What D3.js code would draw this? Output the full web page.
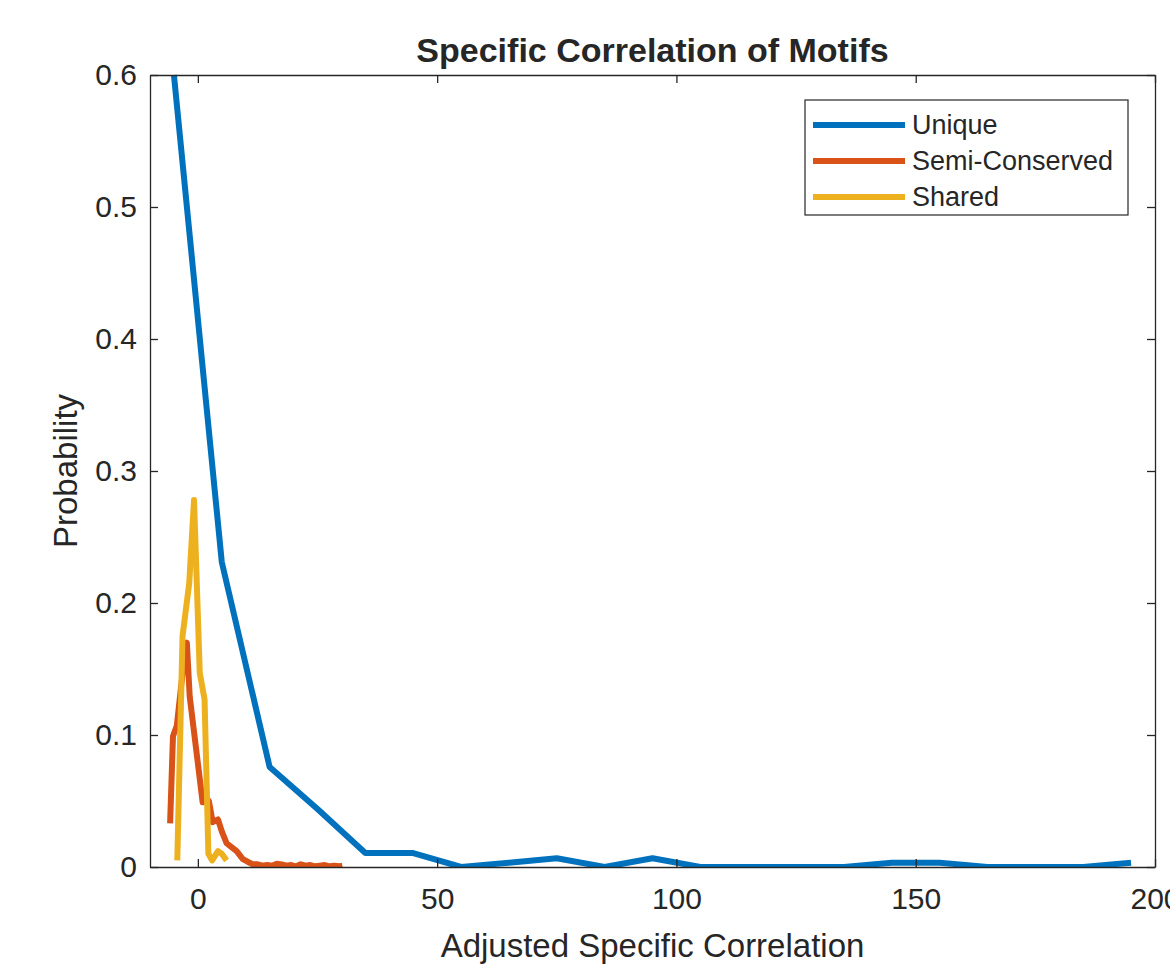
<!DOCTYPE html>
<html>
<head>
<meta charset="utf-8">
<script src="https://cdn.jsdelivr.net/npm/d3@7"></script>
<style>
  body { margin: 0; background: #fff; }
  text { font-family: "Liberation Sans", Arial, sans-serif; fill: #262626; }
</style>
</head>
<body>
<svg id="svg" width="1170" height="964"></svg>
<script>
// data
const seriesNames = ["Unique", "Semi-Conserved", "Shared"];
const seriesColors = ["#0072BD", "#D95319", "#EDB120"];

const uniqueX = [-5, 5, 15, 25, 35, 45, 55, 65, 75, 85, 95, 105, 115, 125, 135, 145, 155, 165, 175, 185, 195];
const uniqueY = [0.6, 0.231, 0.0757, 0.044, 0.0106, 0.0106, 0, 0.0033, 0.0066, 0, 0.0066, 0, 0, 0, 0, 0.0033, 0.0033, 0, 0, 0, 0.0033];

const semiX = [-5.8, -5.2, -4.4, -3.1, -2.3, -1.7, 1.0, 2.3, 3.1, 4.2, 5.0, 6.0, 6.7, 8.1, 9.4, 10.4, 11.5, 12.5, 13.5, 14.5, 15.5, 16.5, 17.5, 18.5, 19.5, 20.5, 21.5, 22.5, 23.5, 24.5, 25.5, 26.5, 27.5, 28.5, 29.5, 30.2];
const semiY = [0.033, 0.099, 0.107, 0.15, 0.17, 0.129, 0.049, 0.050, 0.034, 0.036, 0.027, 0.018, 0.016, 0.012, 0.006, 0.004, 0.002, 0.002, 0.001, 0.0015, 0.001, 0.0025, 0.002, 0.001, 0.0015, 0.0005, 0.002, 0.001, 0.0015, 0.0005, 0.001, 0.0015, 0.0005, 0.001, 0.0005, 0.001];

const sharedX = [-4.3, -3.2, -1.8, -0.8, 0.4, 1.4, 2.2, 3.0, 4.2, 5.0, 6.0];
const sharedY = [0.005, 0.175, 0.215, 0.278, 0.147, 0.127, 0.01, 0.005, 0.012, 0.010, 0.005];

const xTicks = [0, 50, 100, 150, 200];
const yTicks = [0, 0.1, 0.2, 0.3, 0.4, 0.5, 0.6];

window.onload = function () {

    const series = [
        { name: seriesNames[0], color: seriesColors[0], pts: d3.zip(uniqueX, uniqueY) },
        { name: seriesNames[1], color: seriesColors[1], pts: d3.zip(semiX, semiY) },
        { name: seriesNames[2], color: seriesColors[2], pts: d3.zip(sharedX, sharedY) }
    ];

    let svg = d3.select('#svg');
    const mLeft = 150, mRight = 1155, mTop = 75, mBottom = 867;

    let x = d3.scaleLinear().domain([-10, 200]).range([mLeft, mRight]);
    let y = d3.scaleLinear().domain([0, 0.6]).range([mBottom, mTop]);

    svg.append("defs").append("clipPath").attr("id", "clip")
        .append("rect").attr("x", mLeft).attr("y", mTop - 3).attr("width", mRight - mLeft).attr("height", mBottom - mTop + 3);

    // lines
    const line = d3.line().x(d => x(d[0])).y(d => y(d[1]));
    let plot = svg.append("g").attr("clip-path", "url(#clip)");
    series.forEach(s => {
        plot.append("path").attr("d", line(s.pts)).attr("fill", "none")
            .attr("stroke", s.color).attr("stroke-width", 6)
            .attr("stroke-linejoin", "round").attr("stroke-linecap", "butt");
    });

    // axes, matlab style box with inward ticks
    const tickLen = 8;
    let xb = svg.append("g").attr("transform", `translate(0,${mBottom})`)
        .call(d3.axisBottom(x).tickValues(xTicks).tickSizeInner(-tickLen).tickSizeOuter(0));
    let xt = svg.append("g").attr("transform", `translate(0,${mTop})`)
        .call(d3.axisTop(x).tickValues(xTicks).tickSizeInner(-tickLen).tickSizeOuter(0).tickFormat(""));
    let yl = svg.append("g").attr("transform", `translate(${mLeft},0)`)
        .call(d3.axisLeft(y).tickValues(yTicks).tickSizeInner(-tickLen).tickSizeOuter(0).tickFormat(d => d === 0 ? "0" : d3.format(".1f")(d)));
    let yr = svg.append("g").attr("transform", `translate(${mRight},0)`)
        .call(d3.axisRight(y).tickValues(yTicks).tickSizeInner(-tickLen).tickSizeOuter(0).tickFormat(""));

    [xb, xt, yl, yr].forEach(g => {
        g.selectAll(".domain").attr("stroke", "#262626").attr("stroke-width", 1.3);
        g.selectAll(".tick line").attr("stroke", "#262626").attr("stroke-width", 1.3);
        g.selectAll(".tick text").style("font-size", "30px").attr("fill", "#262626")
            .style("font-family", "'Liberation Sans', Arial, sans-serif");
    });
    xb.selectAll(".tick text").attr("dy", "0.71em").attr("y", 21);
    yl.selectAll(".tick text").attr("x", -13);

    // titles
    svg.append("text").attr("x", (mLeft + mRight) / 2).attr("y", 62).attr("text-anchor", "middle")
        .style("font-size", "34px").style("font-weight", 700).text("Specific Correlation of Motifs");
    svg.append("text").attr("x", (mLeft + mRight) / 2).attr("y", 957).attr("text-anchor", "middle")
        .style("font-size", "33px").text("Adjusted Specific Correlation");
    svg.append("text").attr("transform", `translate(77,${(mTop + mBottom) / 2}) rotate(-90)`)
        .attr("text-anchor", "middle").style("font-size", "33px").text("Probability");

    // legend
    let leg = svg.append("g");
    leg.append("rect").attr("x", 805).attr("y", 100).attr("width", 323).attr("height", 115)
        .attr("fill", "#fff").attr("stroke", "#262626").attr("stroke-width", 1.2);
    series.forEach((s, i) => {
        let cy = 125 + i * 36;
        leg.append("line").attr("x1", 813).attr("x2", 905).attr("y1", cy).attr("y2", cy)
            .attr("stroke", s.color).attr("stroke-width", 6);
        leg.append("text").attr("x", 912).attr("y", cy).attr("dy", "0.35em")
            .style("font-size", "27px").text(s.name);
    });
}
</script>
</body>
</html>
